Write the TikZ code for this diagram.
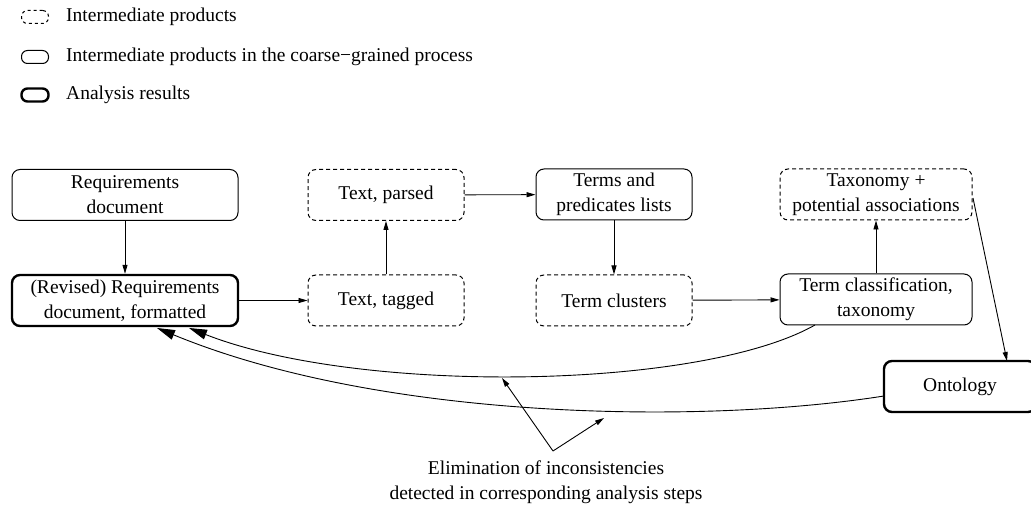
\documentclass[tikz,border=0pt]{standalone}
\usepackage{fontspec}
\setmainfont{Liberation Serif}
\usetikzlibrary{arrows.meta,calc}
\begin{document}
\begin{tikzpicture}[x=1pt,y=-1pt,
  font=\fontsize{19.5}{25}\selectfont,
  box/.style={draw, rounded corners=8pt, line width=1pt, align=center,
    inner sep=0pt, minimum height=51pt},
  inter/.style={box, dash pattern=on 4pt off 3pt},
  result/.style={box, line width=2.4pt},
  icon/.style={draw, rounded corners=6pt, line width=1pt,
    minimum width=27pt, minimum height=13pt, inner sep=0pt},
  flow/.style={line width=0.9pt, -{Triangle[length=9pt,width=5pt]}},
  back/.style={line width=0.9pt, -{Triangle[length=18pt,width=10pt]}},
  legendtext/.style={anchor=west, inner sep=0pt}]
\useasboundingbox (0,0) rectangle (1031,510);

% legend
\node[icon, dash pattern=on 3pt off 3pt] (l1) at (35,17) {};
\node[legendtext] (t1) at (66,17) {Intermediate products};
\node[icon] (l2) at (35,57) {};
\node[legendtext] (t2) at (66,57) {Intermediate products in the coarse\textminus grained process};
\node[icon, line width=2.4pt] (l3) at (35,95) {};
\node[legendtext] (t3) at (66,95) {Analysis results};

% process steps
\node[box, minimum width=226pt] (req) at (125,195) {Requirements\\document};
\node[result, minimum width=226pt] (rev) at (125,300.5) {(Revised) Requirements\\document, formatted};
\node[inter, minimum width=156pt] (parsed) at (386,195) {Text, parsed};
\node[inter, minimum width=156pt] (tagged) at (386,300.5) {Text, tagged};
\node[box, minimum width=156pt] (terms) at (614,194.5) {Terms and\\predicates lists};
\node[inter, minimum width=156pt] (clust) at (614,300.5) {Term clusters};
\node[inter, minimum width=192pt] (taxa) at (876,194.5) {Taxonomy +\\potential associations};
\node[box, minimum width=192pt] (tclass) at (876,299.5) {Term classification,\\taxonomy};
\node[result, minimum width=152pt] (onto) at (960,386.5) {Ontology};

% forward flow
\draw[flow] (req) -- (rev);
\draw[flow] (rev) -- (tagged);
\draw[flow] (tagged) -- (parsed);
\draw[flow] (parsed) -- (terms);
\draw[flow] (terms) -- (clust);
\draw[flow] (clust) -- (tclass);
\draw[flow] (tclass) -- (taxa);
\coordinate (taxout) at (973,198);
\coordinate (ontoin) at (1007,361);
\draw[flow] (taxout) -- (ontoin);

% feedback to the requirements document
\coordinate (fb1s) at (815,325);
\coordinate (fb1e) at (189,328);
\coordinate (fb2s) at (884,396);
\coordinate (fb2e) at (157,328);
\draw[back] (fb1s) .. controls (700,390) and (360,395) .. (fb1e);
\draw[back] (fb2s) .. controls (700,425) and (380,420) .. (fb2e);

% annotation
\node[align=center, inner sep=0pt] (elim) at (546,482)
  {Elimination of inconsistencies\\detected in corresponding analysis steps};
\coordinate (apex) at (553,451);
\coordinate (tip1) at (502,378);
\coordinate (tip2) at (604,418);
\draw[flow] (apex) -- (tip1);
\draw[flow] (apex) -- (tip2);
\end{tikzpicture}
\end{document}
